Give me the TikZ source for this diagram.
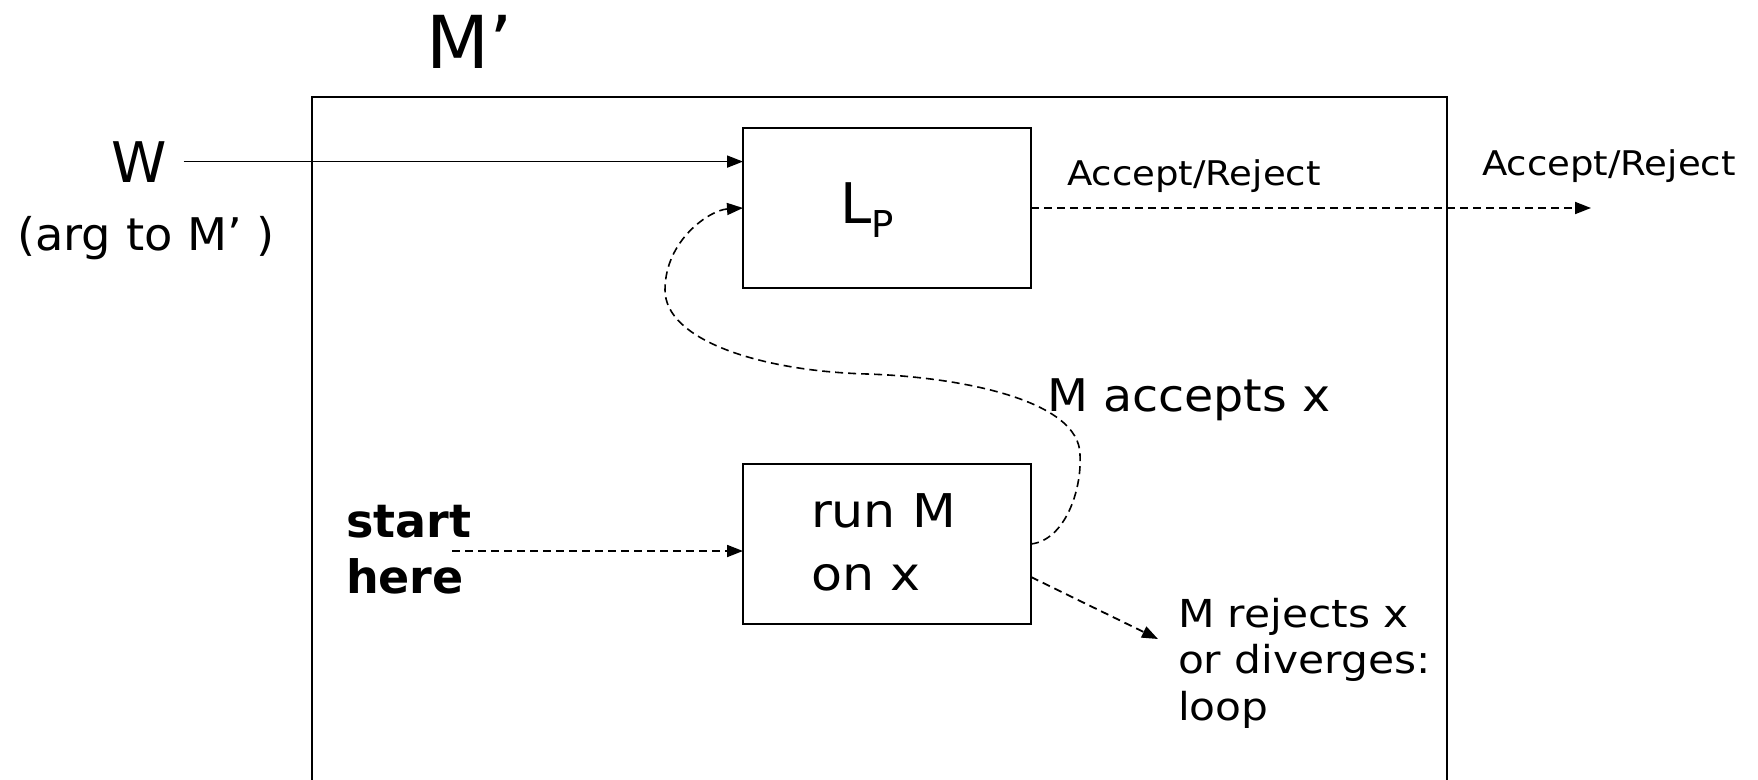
\documentclass[tikz,border=0pt]{standalone}
\usepackage{fontspec}
\setmainfont{DejaVu Sans}
\usetikzlibrary{arrows.meta,calc}
\newcommand{\fsz}[1]{\fontsize{#1bp}{#1bp}\selectfont}
\begin{document}
\begin{tikzpicture}[x=1bp,y=-1bp,
  box/.style={draw,line width=2.2bp,minimum width=288bp,minimum height=160bp,inner sep=0pt,outer sep=0pt},
  txt/.style={inner sep=0pt,outer sep=0pt,anchor=base west},
  tip/.style={-{Triangle[length=16bp,width=12bp]}},
  solidarrow/.style={line width=1.8bp,tip},
  dasharrow/.style={line width=1.8bp,dash pattern=on 8bp off 5bp,tip},
]
\useasboundingbox (0,0) rectangle (1758,780);

% frame of the machine M'
\begin{scope}
  \clip (0,0) rectangle (1758,780);
  \draw[line width=2bp] (312,800) -- (312,97) -- (1447,97) -- (1447,800);
\end{scope}
\node[txt] (mname) at (426,69) {\fsz{73}M’};

% input w
\node[inner ysep=0pt,inner xsep=17bp,outer sep=0pt,anchor=base] (w) at (139,182) {\fsz{56}W};
\node[inner sep=0pt,anchor=base,xscale=1.03] (arg) at (146,250) {\fsz{45}(arg to M’ )};

% the two boxes
\node[box] (lp) at (887,208) {};
\node[box] (run) at (887,544) {};
\node[txt] (lpname) at (840,223) {\fsz{56}L\raisebox{-14bp}{\fsz{37}P}};
\node[txt,xscale=1.09] (runA) at (811,527) {\fsz{46.5}run M};
\node[txt,xscale=1.09] (runB) at (811,590) {\fsz{46.5}on x};

% start
\node[txt] (startA) at (346,537) {\fsz{46}\bfseries start};
\node[txt] (startB) at (346,593) {\fsz{46}\bfseries here};
\coordinate (s0) at (452,551);
\draw[dasharrow] (s0) -- (s0 -| run.west);

% w into L_P
\draw[solidarrow] (w.east) -- (w.east -| lp.west);

% output of L_P
\coordinate (out) at (1591,208);
\draw[dasharrow] (lp.east) -- (out);
\node[txt,xscale=1.09] (accin) at (1067,185) {\fsz{34}Accept/Reject};
\node[txt,xscale=1.09] (accout) at (1482,175) {\fsz{34}Accept/Reject};

% M accepts x: back up into L_P
\draw[line width=1.6bp,dash pattern=on 8bp off 5bp,tip]
  (run.east) .. controls (1065,540) and (1082,490) .. (1080,455)
  .. controls (1080,400) and (960,377) .. (867,374)
  .. controls (760,371) and (665,340) .. (665,290)
  .. controls (665,240) and (710,210) .. (lp.west);
\node[txt,xscale=1.055] (acc) at (1047,411) {\fsz{45}M accepts x};

% M rejects x or diverges
\coordinate (rej) at (1158,639);
\draw[dasharrow] ($(run.east)+(0,33)$) -- (rej);
\node[txt,xscale=1.1] (rejA) at (1178,627) {\fsz{38.5}M rejects x};
\node[txt,xscale=1.1] (rejB) at (1178,673) {\fsz{38.5}or diverges:};
\node[txt,xscale=1.1] (rejC) at (1178,720) {\fsz{38.5}loop};
\end{tikzpicture}
\end{document}
